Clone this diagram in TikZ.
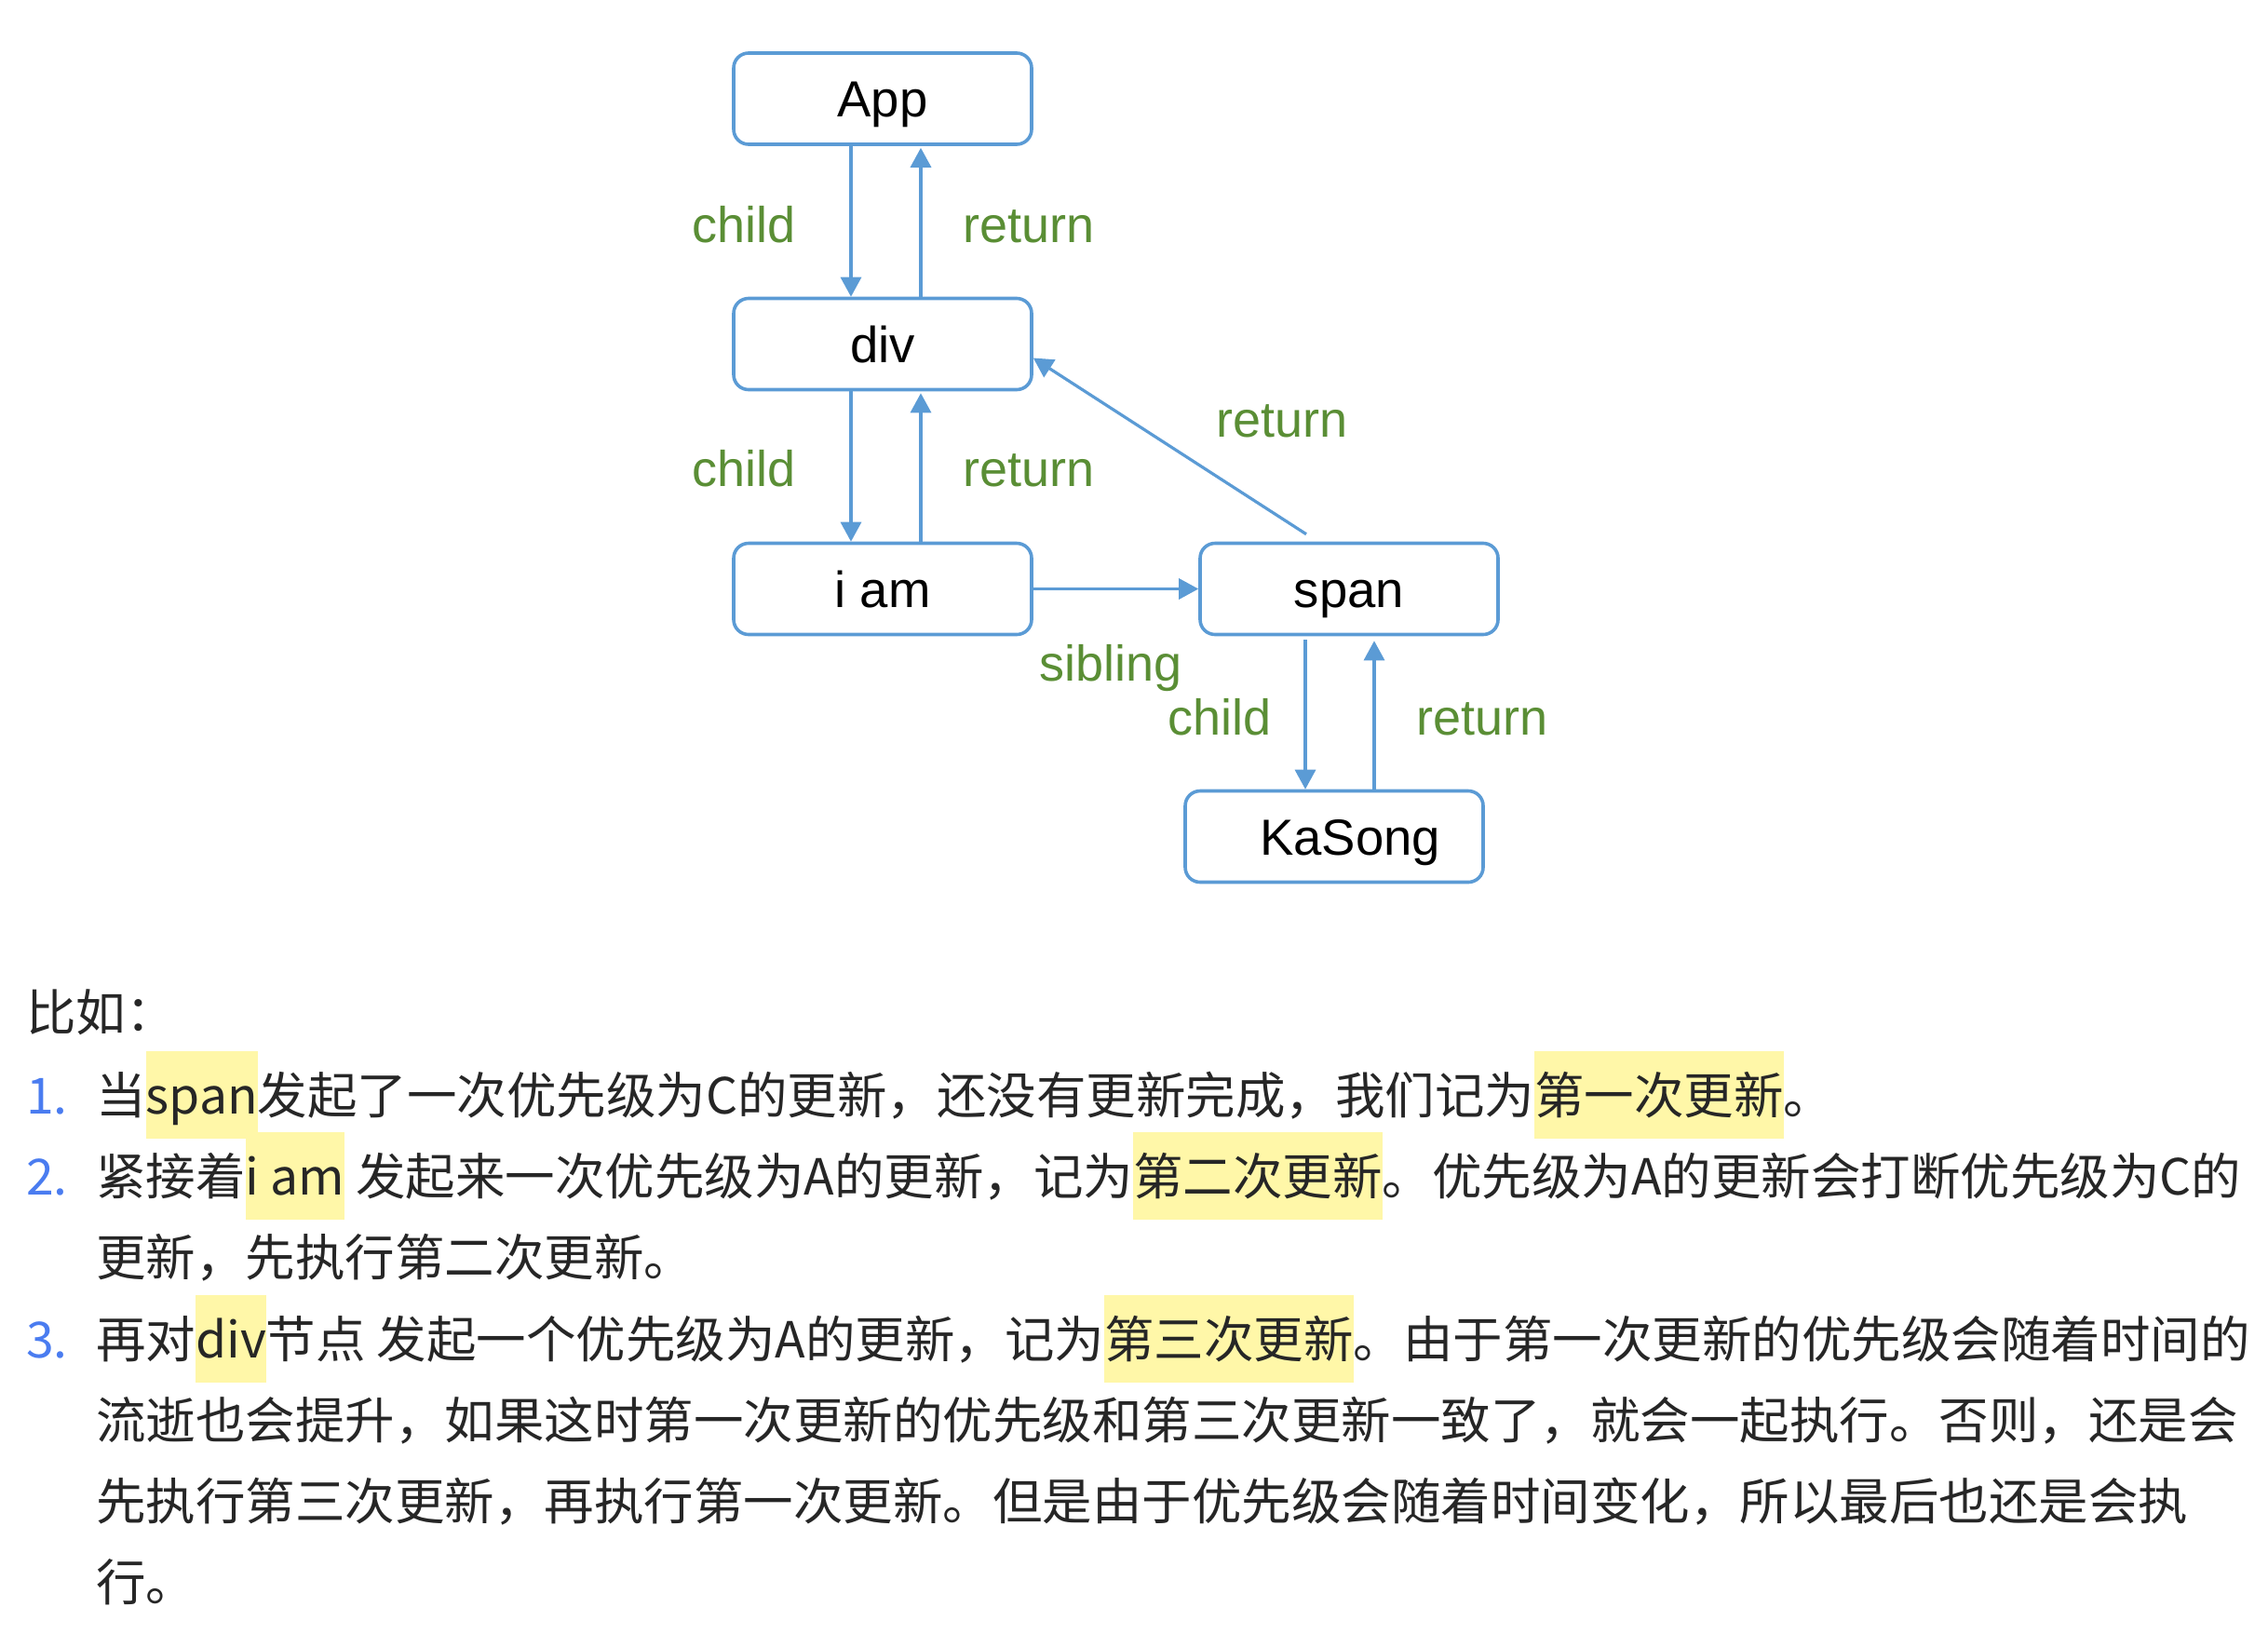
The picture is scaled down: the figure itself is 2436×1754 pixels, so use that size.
\documentclass[tikz,border=0pt]{standalone}
\usepackage{fontspec}
\setmainfont{Liberation Sans}
\newfontfamily\cjk{Noto Sans CJK SC}
\usetikzlibrary{arrows.meta}
\definecolor{boxblue}{HTML}{5B9BD5}
\definecolor{labelgreen}{HTML}{5A8E35}
\definecolor{hlyellow}{HTML}{FFF7A8}
\definecolor{numblue}{HTML}{4A7CF0}
\definecolor{bodytext}{HTML}{262626}
% yellow marker behind a word of the body text
\newcommand\hlt[1]{{\setlength{\fboxsep}{0pt}\colorbox{hlyellow}{\rule[-27pt]{0pt}{94pt}#1}}}
\begin{document}
\begin{tikzpicture}[x=1pt,y=-1pt,
  fiber/.style={draw=boxblue, line width=3.6pt, rounded corners=16pt,
    minimum width=320pt, minimum height=98pt, inner sep=0pt,
    text height=39pt, text depth=0pt, font=\fontsize{54.5}{60}\selectfont},
  link/.style={draw=boxblue, line width=3.2pt, -{Triangle[length=21pt,width=22pt]}},
  edgelabel/.style={text=labelgreen, font=\fontsize{54}{60}\selectfont, anchor=base, inner sep=0pt},
  bodyline/.style={anchor=base west, inner sep=0pt, text=bodytext, font=\cjk\fontsize{53.5}{60}\selectfont},
  listnum/.style={anchor=base west, inner sep=0pt, text=numblue, font=\cjk\fontsize{53.5}{60}\selectfont}]

\useasboundingbox[fill=white] (0,0) rectangle (2436,1754);

% fiber tree
\node[fiber] (app) at (948,106) {App};
\node[fiber] (div) at (948,369.5) {div};
\node[fiber] (iam) at (948,632.5) {i am};
\node[fiber] (span) at (1449,632.5) {span};
\node[fiber] (kasong) at (1433,898.5) {\hspace{34pt}KaSong};

\draw[link] ([xshift=-34pt]app.south) -- ([xshift=-34pt]div.north);
\draw[link, shorten >=2pt] ([xshift=41pt]div.north) -- ([xshift=41pt]app.south);
\draw[link] ([xshift=-34pt]div.south) -- ([xshift=-34pt]iam.north);
\draw[link, shorten >=2pt] ([xshift=41pt]iam.north) -- ([xshift=41pt]div.south);
\draw[link] (iam.east) -- (span.west);
\coordinate (spanup) at ([xshift=-46pt,yshift=8pt]span.north);
\draw[link] (spanup) -- ([yshift=-15pt]div.east);
\coordinate (sc) at ([xshift=-47pt]span.south);
\coordinate (sr) at ([xshift=27pt]span.south);
\draw[link, shorten <=4pt] (sc) -- (sc |- kasong.north);
\draw[link, shorten >=5pt] (sr |- kasong.north) -- (sr);

\node[edgelabel] (c1) at (799,260) {child};
\node[edgelabel] (r1) at (1105,260) {return};
\node[edgelabel] (c2) at (799,522) {child};
\node[edgelabel] (r2) at (1105,522) {return};
\node[edgelabel] (r3) at (1377,469) {return};
\node[edgelabel] (sib) at (1193,731) {sibling};
\node[edgelabel] (c3) at (1310,789) {child};
\node[edgelabel] (r4) at (1592,789) {return};

% explanation text
\node[bodyline] (t0) at (28,1107) {比如：};
\node[listnum] (n1) at (28,1196) {1.};
\node[bodyline] (t1) at (103,1196) {当\hlt{span}发起了一次优先级为C的更新，还没有更新完成，我们记为\hlt{第一次更新}。};
\node[listnum] (n2) at (28,1283) {2.};
\node[bodyline] (t2) at (103,1283) {紧接着\hlt{i am} 发起来一次优先级为A的更新，记为\hlt{第二次更新}。优先级为A的更新会打断优先级为C的};
\node[bodyline] (t2b) at (103,1370) {更新，先执行第二次更新。};
\node[listnum] (n3) at (28,1458) {3.};
\node[bodyline] (t3) at (103,1458) {再对\hlt{div}节点 发起一个优先级为A的更新，记为\hlt{第三次更新}。由于第一次更新的优先级会随着时间的};
\node[bodyline] (t3b) at (103,1545) {流逝也会提升，如果这时第一次更新的优先级和第三次更新一致了，就会一起执行。否则，还是会};
\node[bodyline] (t3c) at (103,1632) {先执行第三次更新，再执行第一次更新。但是由于优先级会随着时间变化，所以最后也还是会执};
\node[bodyline] (t3d) at (103,1719) {行。};
\end{tikzpicture}
\end{document}
